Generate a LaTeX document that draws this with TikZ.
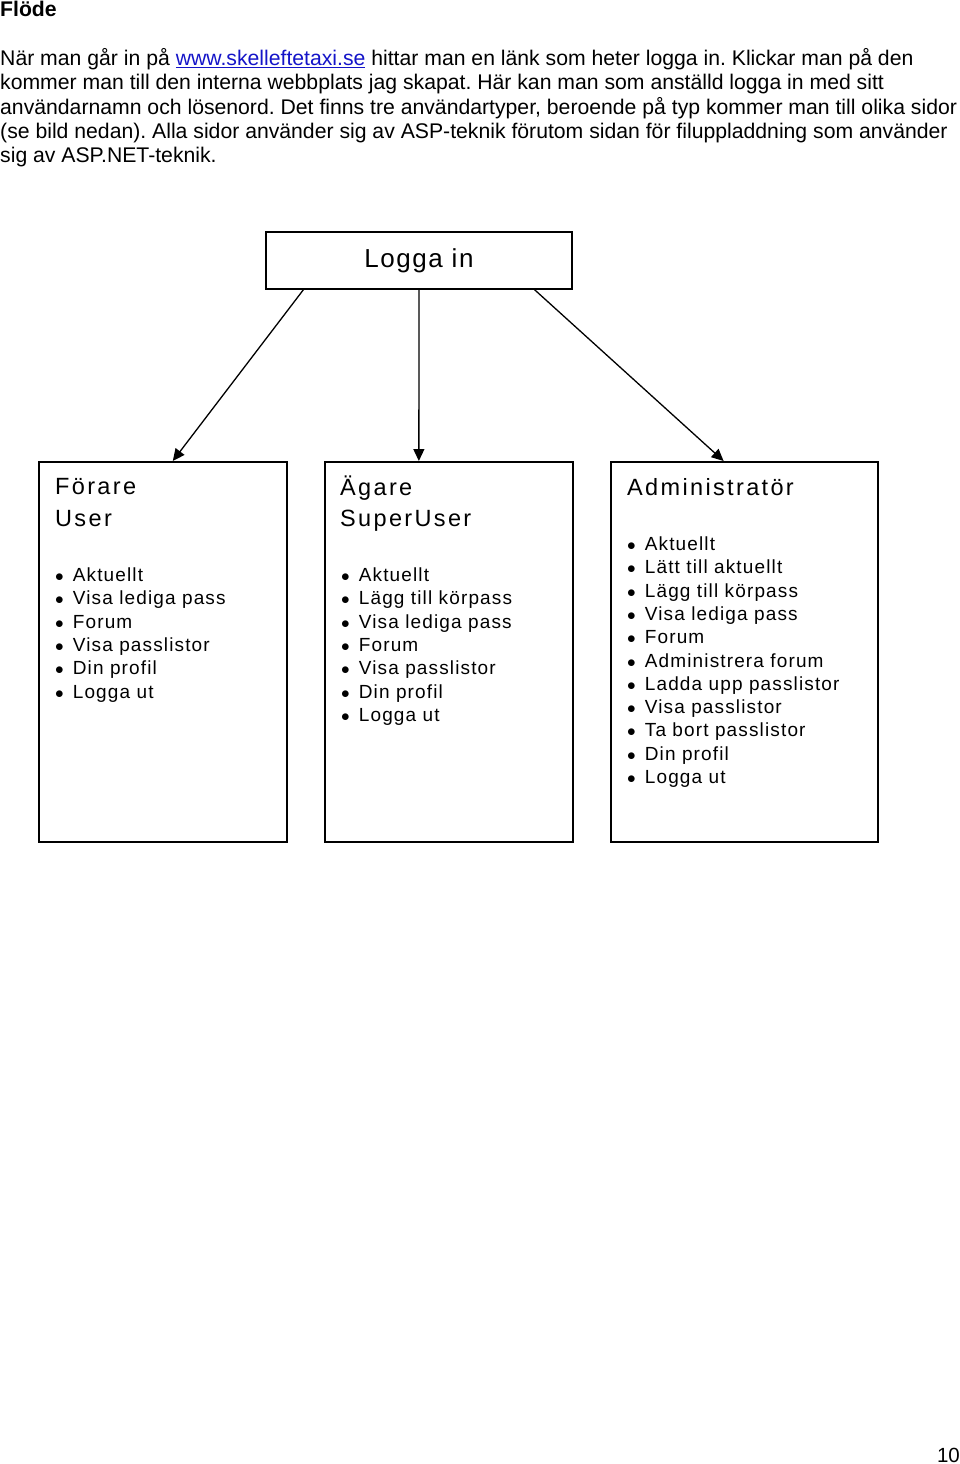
\documentclass[tikz,border=0pt]{standalone}
\usepackage{fontspec}
\setmainfont{Liberation Sans}
\newfontfamily\boxfont{Liberation Sans}[LetterSpace=6]
\newfontfamily\headfont{Liberation Sans}[LetterSpace=10]
\usepackage{xcolor}
\usetikzlibrary{positioning}
\usetikzlibrary{arrows.meta}
\usetikzlibrary{calc}
\definecolor{linkblue}{RGB}{20,20,200}
\frenchspacing

\begin{document}
\begin{tikzpicture}[x=1pt,y=-1pt,
  box/.style={draw,line width=1.6pt,minimum width=248pt,minimum height=380pt,inner sep=0pt},
  head/.style={anchor=north west,align=left,inner sep=0pt,font=\headfont\fontsize{23.5}{31.5}\selectfont},
  items/.style={anchor=north west,inner sep=0pt,font=\boxfont\fontsize{19}{23.3}\selectfont},
  arr/.style={line width=1.3pt,-{Triangle[length=12pt,width=11pt]}}]
\useasboundingbox (0,0) rectangle (960,1464);

\node [anchor=base west,inner sep=0pt,font=\bfseries\fontsize{21.2}{24}\selectfont] (title) at (0,17) {Flöde};
\node [anchor=north west,align=left,inner sep=0pt,font=\fontsize{21.2}{24.2}\selectfont] (intro) at (0,48.5)
  {När man går in på {\color{linkblue}\underline{www.skelleftetaxi.se}} hittar man en länk som heter logga in. Klickar man på den\\
   kommer man till den interna webbplats jag skapat. Här kan man som anställd logga in med sitt\\
   användarnamn och lösenord. Det finns tre användartyper, beroende på typ kommer man till olika sidor\\
   (se bild nedan). Alla sidor använder sig av ASP-teknik förutom sidan för filuppladdning som använder\\
   sig av ASP.NET-teknik.};

\node [draw,line width=1.6pt,minimum width=306pt,minimum height=57pt,inner sep=0pt,font=\boxfont\fontsize{26}{30}\selectfont] (logga) at (419,260.5) {Logga in};

\node [box,anchor=north west] (forare) at (38,461) {};
\node [box,right=36.4pt of forare] (agare) {};
\node [box,minimum width=267pt,right=36.4pt of agare] (admin) {};

\node [head] (forareT) at ($(forare.north west)+(17,17.5)$) {Förare\\User};
\node [items] (forareL) at ($(forare.north west)+(17,104)$) {%
  \begin{tabular}{@{}l@{\hspace{9pt}}l@{}}
  $\bullet$ & Aktuellt\\
  $\bullet$ & Visa lediga pass\\
  $\bullet$ & Forum\\
  $\bullet$ & Visa passlistor\\
  $\bullet$ & Din profil\\
  $\bullet$ & Logga ut
  \end{tabular}};

\node [head] (agareT) at ($(agare.north west)+(16,14.5)$) {Ägare\\SuperUser};
\node [items] (agareL) at ($(agare.north west)+(17,104)$) {%
  \begin{tabular}{@{}l@{\hspace{9pt}}l@{}}
  $\bullet$ & Aktuellt\\
  $\bullet$ & Lägg till körpass\\
  $\bullet$ & Visa lediga pass\\
  $\bullet$ & Forum\\
  $\bullet$ & Visa passlistor\\
  $\bullet$ & Din profil\\
  $\bullet$ & Logga ut
  \end{tabular}};

\node [head] (adminT) at ($(admin.north west)+(17,17.5)$) {Administratör};
\node [items] (adminL) at ($(admin.north west)+(17,73)$) {%
  \begin{tabular}{@{}l@{\hspace{9pt}}l@{}}
  $\bullet$ & Aktuellt\\
  $\bullet$ & Lätt till aktuellt\\
  $\bullet$ & Lägg till körpass\\
  $\bullet$ & Visa lediga pass\\
  $\bullet$ & Forum\\
  $\bullet$ & Administrera forum\\
  $\bullet$ & Ladda upp passlistor\\
  $\bullet$ & Visa passlistor\\
  $\bullet$ & Ta bort passlistor\\
  $\bullet$ & Din profil\\
  $\bullet$ & Logga ut
  \end{tabular}};

\draw [arr] ($(logga.south west)!0.124!(logga.south east)$) -- ($(forare.north west)!0.54!(forare.north east)$);
\draw [arr] (logga.south) -- ($(agare.north west)!0.38!(agare.north east)$);
\draw [arr] ($(logga.south west)!0.876!(logga.south east)$) -- ($(admin.north west)!0.423!(admin.north east)$);

\node [anchor=base east,inner sep=0pt,font=\fontsize{20.5}{24}\selectfont] (page) at (960,1462) {10};
\end{tikzpicture}
\end{document}
